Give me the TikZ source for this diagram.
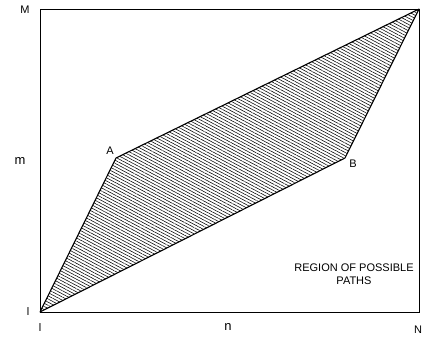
\documentclass[tikz,border=0pt]{standalone}
\usepackage{fontspec}
\setmainfont{Liberation Sans}
\usetikzlibrary{patterns.meta}

\begin{document}
\begin{tikzpicture}[
  x=1pt,y=-1pt,
  font=\fontsize{11}{13}\selectfont,
  frame/.style={draw=black, line width=0.8pt},
  region/.style={draw=black, line width=1.1pt, line join=round,
                 pattern={Lines[angle=-28,distance=2.8pt,line width=0.55pt]}},
  axlabel/.style={inner sep=0pt},
  small/.style={axlabel, font=\fontsize{13}{15}\selectfont},
]
\useasboundingbox (0,0) rectangle (423,340);

% ---------------- corners of the grid ----------------
\coordinate (orig) at (40,312);
\coordinate (top)  at (419,9);
\coordinate (A)    at (116,158);
\coordinate (B)    at (345,158);

% outer frame
\draw[frame] (40,9) rectangle (419,312);

% region between the two slope limits
\draw[region] (orig) -- (A) -- (top) -- (B) -- cycle;

% corner labels
\node[axlabel] (lA) at (110,151) {A};
\node[axlabel] (lB) at (353,164) {B};

% ---------------- axis labels ----------------
\node[axlabel] (lM)  at (25,10)   {M};
\node[small]   (lm)  at (20,161) {m};
\node[axlabel] (ll)  at (28,312) {l};
\node[axlabel] (lb)  at (40,328) {l};
\node[small]   (ln)  at (228,327) {n};
\node[axlabel] (lN)  at (418,330) {N};

% legend text
\node[align=center, inner sep=0pt] (txt) at (354,274)
  {REGION OF POSSIBLE\\PATHS};

\end{tikzpicture}
\end{document}
